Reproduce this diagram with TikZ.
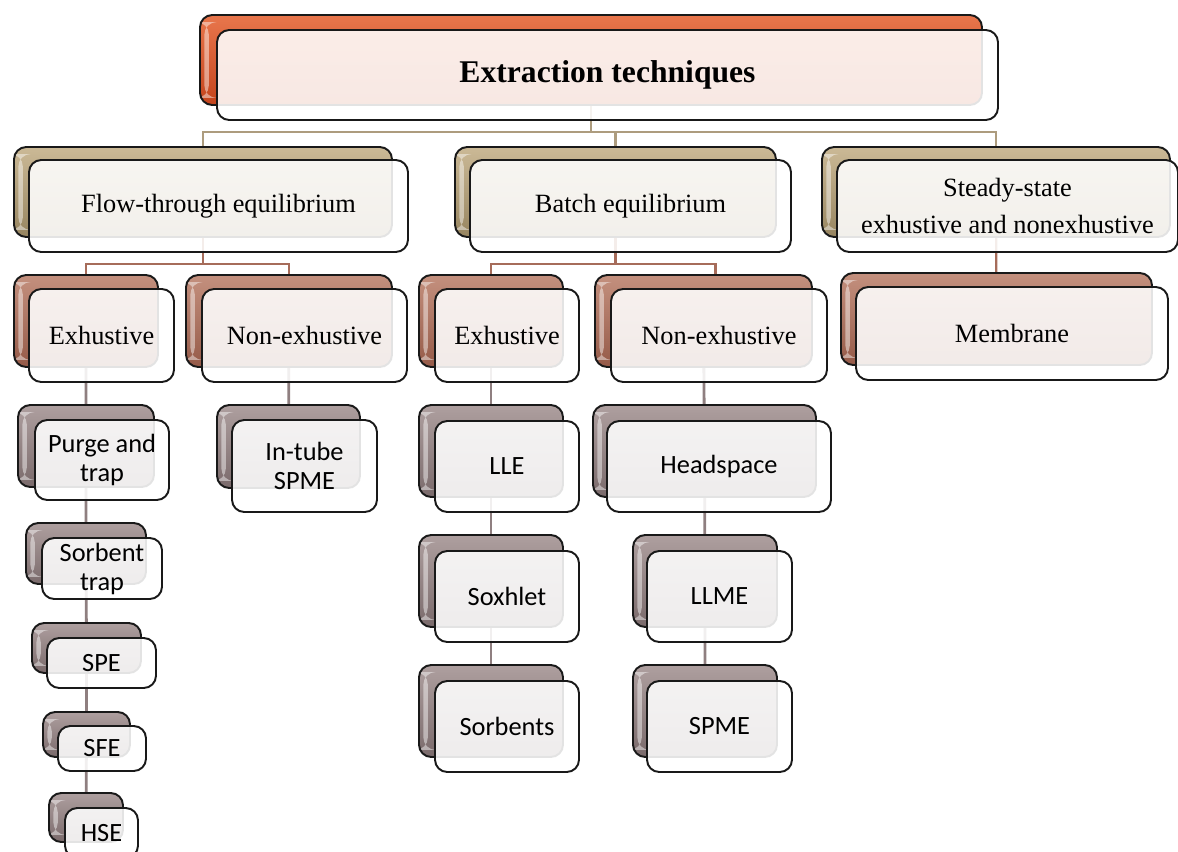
\documentclass[tikz,border=0pt]{standalone}
\usepackage{fontspec}
\setmainfont{Liberation Serif}
\newfontfamily\leaffont{Carlito}
\usetikzlibrary{backgrounds}

\definecolor{titletop}{HTML}{E8764C}
\definecolor{titlebot}{HTML}{C4441C}
\definecolor{tantop}{HTML}{CBB996}
\definecolor{tanbot}{HTML}{978560}
\definecolor{rosetop}{HTML}{C4907E}
\definecolor{rosebot}{HTML}{955A48}
\definecolor{greytop}{HTML}{AE9F9F}
\definecolor{greybot}{HTML}{7A6A6B}
\definecolor{tanline}{HTML}{AD9C7E}
\definecolor{roseline}{HTML}{A66C5A}
\definecolor{greyline}{HTML}{8F7F80}

\begin{document}
\begin{tikzpicture}[x=0.02cm, y=-0.02cm,
        spot/.style n args={4}{at={({(#1+#3)/2},{(#2+#4)/2})},
            minimum width={(#3-#1)*0.02cm}, minimum height={(#4-#2)*0.02cm}},
        box/.style={draw=black!90, line width=1.1pt, rounded corners=7pt, inner sep=0pt},
        back/.style={box, path picture={\fill[white, opacity=.45]
            ([shift={(2.5pt,-4pt)}]path picture bounding box.north west) rectangle
            ([shift={(5pt,4pt)}]path picture bounding box.south west);}},
        front/.style={box, fill=white, fill opacity=.88, text opacity=1, align=center},
        titleback/.style={back, top color=titletop, bottom color=titlebot},
        tanback/.style={back, top color=tantop, bottom color=tanbot},
        roseback/.style={back, top color=rosetop, bottom color=rosebot},
        greyback/.style={back, top color=greytop, bottom color=greybot},
        title/.style={front, font=\bfseries\fontsize{18}{22}\selectfont},
        kind/.style={front, font=\fontsize{15}{21.5}\selectfont},
        method/.style={front, font=\leaffont\fontsize{15}{16.5}\selectfont},
        link/.style={line width=1.3pt},
        leaflink/.style={line width=1.6pt, greyline}]

    \useasboundingbox (0,0) rectangle (1178,852);
    \clip (0,0) rectangle (1178,852);

    % Root
    \node[titleback, spot={200}{15}{982}{105}] (topB) {};
    \node[title, spot={217}{30}{998}{120}] (top) {Extraction techniques};

    % First level
    \node[tanback, spot={14}{147}{392}{237}] (flowB) {};
    \node[kind, spot={29}{160}{408}{252}] (flow) {Flow-through equilibrium};
    \node[tanback, spot={455}{147}{776}{237}] (batchB) {};
    \node[kind, spot={470}{160}{791}{252}] (batch) {Batch equilibrium};
    \node[tanback, spot={822}{147}{1170}{237}] (steadyB) {};
    \node[kind, spot={837}{160}{1178}{252}] (steady) {Steady-state\\exhustive and nonexhustive};

    % Second level
    \node[roseback, spot={14}{275}{158}{367}] (fexB) {};
    \node[kind, spot={29}{289}{174}{382}] (fex) {Exhustive};
    \node[roseback, spot={186}{275}{392}{367}] (fnexB) {};
    \node[kind, spot={202}{289}{407}{382}] (fnex) {Non-exhustive};
    \node[roseback, spot={419}{275}{563}{367}] (bexB) {};
    \node[kind, spot={435}{289}{579}{382}] (bex) {Exhustive};
    \node[roseback, spot={595}{275}{812}{367}] (bnexB) {};
    \node[kind, spot={611}{289}{827}{382}] (bnex) {Non-exhustive};
    \node[roseback, spot={841}{273}{1152}{365}] (membB) {};
    \node[kind, spot={856}{287}{1168}{380}] (memb) {Membrane};

    % Methods, flow-through
    \node[greyback, spot={18}{405}{154}{487}] (purgeB) {};
    \node[method, spot={35}{420}{169}{500}] (purge) {Purge and\\trap};
    \node[greyback, spot={26}{523}{146}{584}] (sorbB) {};
    \node[method, spot={42}{538}{162}{599}] (sorb) {Sorbent\\trap};
    \node[greyback, spot={32}{623}{141}{673}] (speB) {};
    \node[method, spot={47}{638}{156}{688}] (spe) {SPE};
    \node[greyback, spot={43}{712}{130}{757}] (sfeB) {};
    \node[method, spot={58}{726}{146}{771}] (sfe) {SFE};
    \node[greyback, spot={49}{793}{123}{842}] (hseB) {};
    \node[method, spot={65}{808}{138}{858}] (hse) {HSE};
    \node[greyback, spot={217}{405}{360}{488}] (intubeB) {};
    \node[method, spot={232}{420}{377}{512}] (intube) {In-tube\\SPME};

    % Methods, batch
    \node[greyback, spot={419}{405}{563}{497}] (lleB) {};
    \node[method, spot={435}{421}{579}{512}] (lle) {LLE};
    \node[greyback, spot={419}{535}{563}{627}] (soxB) {};
    \node[method, spot={435}{551}{579}{642}] (sox) {Soxhlet};
    \node[greyback, spot={419}{665}{563}{757}] (sorbsB) {};
    \node[method, spot={435}{681}{579}{772}] (sorbs) {Sorbents};
    \node[greyback, spot={593}{405}{816}{497}] (headB) {};
    \node[method, spot={607}{421}{831}{512}] (head) {Headspace};
    \node[greyback, spot={633}{535}{777}{627}] (llmeB) {};
    \node[method, spot={647}{551}{792}{642}] (llme) {LLME};
    \node[greyback, spot={633}{665}{777}{757}] (spmeB) {};
    \node[method, spot={647}{681}{792}{772}] (spme) {SPME};

    % Edges
    \begin{scope}[on background layer]
        \coordinate (bus1) at (0,132);
        \coordinate (bus2) at (0,264);
        \draw[link, tanline] (topB.center) -- (topB.center |- bus1) -| (flowB.center);
        \draw[link, tanline] (topB.center |- bus1) -| (batchB.center);
        \draw[link, tanline] (topB.center |- bus1) -| (steadyB.center);
        \draw[link, roseline] (flowB.center) -- (flowB.center |- bus2) -| (fexB.center);
        \draw[link, roseline] (flowB.center |- bus2) -| (fnexB.center);
        \draw[link, roseline] (batchB.center) -- (batchB.center |- bus2) -| (bexB.center);
        \draw[link, roseline] (batchB.center |- bus2) -| ([xshift=0.24cm]bnexB.center);
        \draw[link, roseline] (steadyB.center) -- (membB.center);
        \draw[leaflink] (fexB.center) -- (purgeB.center) -- (sorbB.center)
            -- (speB.center) -- (sfeB.center) -- (hseB.center);
        \draw[leaflink] (fnexB.center) -- (intubeB.center);
        \draw[leaflink] (bexB.center) -- (lleB.center) -- (soxB.center) -- (sorbsB.center);
        \draw[leaflink] (bnexB.center) -- (headB.center) -- (llmeB.center) -- (spmeB.center);
    \end{scope}
\end{tikzpicture}
\end{document}
